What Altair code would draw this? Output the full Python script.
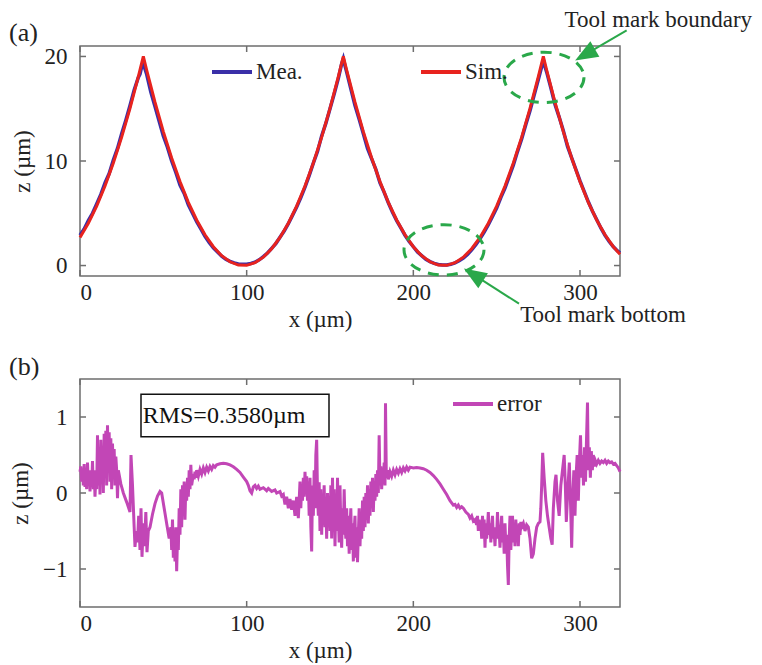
import altair as alt
import pandas as pd

# ---------------- data ----------------
sim_x = [0, 5, 10, 15, 20, 25, 30, 35, 38, 40, 45, 50, 55, 60, 65, 70, 75, 80, 85, 90, 95,
         100, 105, 110, 115, 120, 125, 130, 135, 140, 145, 150, 155, 158, 160, 165, 170, 175,
         180, 185, 190, 195, 200, 205, 210, 215, 220, 225, 230, 235, 240, 245, 250, 255, 260,
         265, 270, 275, 278, 280, 285, 290, 295, 300, 305, 310, 315, 320, 324]
sim_z = [2.69, 4.05, 5.69, 7.61, 9.81, 12.28, 15.03, 18.06, 20.0, 18.70, 15.62, 12.81, 10.28,
         8.03, 6.05, 4.36, 2.94, 1.80, 0.94, 0.36, 0.05, 0.02, 0.27, 0.80, 1.61, 2.69, 4.05,
         5.69, 7.61, 9.81, 12.28, 15.03, 18.06, 20.0, 18.70, 15.62, 12.81, 10.28, 8.03, 6.05,
         4.36, 2.94, 1.80, 0.94, 0.36, 0.05, 0.02, 0.27, 0.80, 1.61, 2.69, 4.05, 5.69, 7.61,
         9.81, 12.28, 15.03, 18.06, 20.0, 18.70, 15.62, 12.81, 10.28, 8.03, 6.05, 4.36, 2.94,
         1.80, 1.09]

mea_x = [0, 2.5, 5, 7.5, 10, 12.5, 15, 17.5, 20, 22.5, 25, 27.5, 30, 32.5, 35, 36, 37, 38, 39,
         40, 42.5, 45, 47.5, 50, 52.5, 55, 57.5, 60, 62.5, 65, 67.5, 70, 72.5, 75, 77.5, 80,
         82.5, 85, 87.5, 90, 92.5, 95, 97.5, 100, 102.5, 105, 107.5, 110, 112.5, 115, 117.5,
         120, 122.5, 125, 127.5, 130, 132.5, 135, 137.5, 140, 142.5, 145, 147.5, 150, 152.5,
         155, 157, 158, 159, 160, 162.5, 165, 167.5, 170, 172.5, 175, 177.5, 180, 182.5, 185,
         187.5, 190, 192.5, 195, 197.5, 200, 202.5, 205, 207.5, 210, 212.5, 215, 217.5, 220,
         222.5, 225, 227.5, 230, 232.5, 235, 237.5, 240, 242.5, 245, 247.5, 250, 252.5, 255,
         257.5, 260, 262.5, 265, 267.5, 270, 272.5, 275, 277, 278, 279, 280, 282.5, 285, 287.5,
         290, 292.5, 295, 297.5, 300, 302.5, 305, 307.5, 310, 312.5, 315, 317.5, 320, 322.5, 324]
mea_z = [2.9, 3.5, 4.3, 5.0, 5.9, 6.8, 7.9, 8.8, 10.1, 11.2, 12.6, 13.9, 15.3, 16.8, 18.0, 18.3,
         19.0, 19.4, 18.8, 18.3, 16.6, 15.2, 13.8, 12.4, 11.3, 10.0, 8.9, 7.7, 6.9, 5.8, 5.0,
         4.2, 3.5, 2.8, 2.2, 1.7, 1.3, 0.9, 0.6, 0.4, 0.25, 0.15, 0.12, 0.12, 0.2, 0.32, 0.55,
         0.85, 1.2, 1.65, 2.1, 2.7, 3.3, 4.0, 4.8, 5.6, 6.5, 7.5, 8.6, 9.8, 10.9, 12.4, 13.6,
         15.0, 16.4, 17.9, 19.3, 19.8, 19.1, 18.5, 16.9, 15.3, 14.0, 12.6, 11.2, 10.2, 9.2, 7.9,
         7.0, 6.0, 5.1, 4.3, 3.6, 2.9, 2.3, 1.8, 1.3, 0.95, 0.6, 0.38, 0.2, 0.1, 0.05, 0.05,
         0.12, 0.25, 0.45, 0.72, 1.05, 1.5, 2.0, 2.55, 3.2, 3.9, 4.7, 5.5, 6.5, 7.4, 8.5, 9.6,
         10.9, 12.1, 13.5, 14.8, 16.3, 17.8, 19.0, 19.7, 19.0, 18.5, 17.0, 15.4, 14.2, 12.9,
         11.4, 10.3, 9.2, 8.1, 7.1, 6.1, 5.2, 4.4, 3.6, 2.9, 2.3, 1.8, 1.4, 1.2]

err_x = [0, 0.5, 1, 1.5, 2, 2.5, 3, 3.5, 4, 4.5, 5, 5.5, 6, 6.5, 7, 7.5, 8, 8.5, 9, 9.5,
         10, 10.5, 11, 11.5, 12, 12.5, 13, 13.5, 14, 14.5, 15, 15.5, 16, 16.5, 17, 17.5, 18,
         18.5, 19, 19.5, 20, 20.5, 21, 21.5, 22, 22.5, 23, 24.5, 26, 28, 30, 30.6, 31.5, 32.5,
         33, 33.8, 34.5, 35.2, 36, 36.6, 37.2, 38, 38.7, 39.5, 40.2, 41, 42, 43.5, 45, 46.5,
         48, 49, 50.5, 52, 53.5, 54.5, 55, 55.5, 56, 56.5, 57, 57.5, 58, 58.5, 59, 59.5, 60,
         60.5, 61, 61.5, 62, 62.5, 63, 63.5, 64, 64.5, 65, 65.5, 66, 66.5, 67, 68, 68.5, 69,
         69.5, 70, 71, 72, 73, 74, 75, 76, 77, 78, 79, 80, 81, 82, 84, 86, 88, 90, 92, 94, 96,
         98, 100, 101, 102, 103, 104, 105, 106, 107, 108, 110, 112, 113, 115, 117, 118, 120,
         121, 122, 123, 124, 125, 126, 127, 128, 129, 130, 131, 131.5, 132, 132.5, 133, 133.5,
         134, 134.5, 135, 135.5, 136, 136.5, 137, 137.5, 138, 138.5, 139, 139.5, 140, 140.5,
         141, 141.5, 142, 142.5, 143, 143.5, 144, 144.5, 145, 145.5, 146, 146.5, 147, 147.5,
         148, 148.5, 149, 149.5, 150, 150.5, 151, 151.5, 152, 152.5, 153, 153.5, 154, 154.5,
         155, 155.5, 156, 156.5, 157, 157.5, 158, 158.5, 159, 159.5, 160, 160.5, 161, 161.5,
         162, 162.5, 163, 163.5, 164, 164.5, 165, 165.5, 166, 166.5, 167, 167.5, 168, 168.5,
         169, 169.5, 170, 170.5, 171, 171.5, 172, 172.5, 173, 173.5, 174, 174.5, 175, 175.5,
         176, 176.5, 177, 177.5, 178, 178.5, 179, 179.5, 180, 180.5, 181, 181.5, 182, 182.5,
         183, 183.3, 183.8, 184.5, 185, 186, 187, 188, 189, 190, 191, 192, 193, 194, 195, 196,
         197, 198, 200, 202, 204, 206, 208, 210, 212, 214, 216, 218, 220, 222, 224, 225, 226,
         227, 228, 229, 230, 231.5, 233, 234, 235, 236, 237, 238, 238.5, 239, 239.5, 240,
         240.5, 241, 241.5, 242, 242.5, 243, 243.5, 244, 244.5, 245, 245.5, 246, 246.5, 247,
         247.5, 248, 248.5, 249, 249.5, 250, 250.5, 251, 251.5, 252, 252.5, 253, 253.5, 254,
         254.5, 255, 255.5, 256, 256.5, 257, 257.5, 258, 258.5, 259, 259.5, 260, 260.5, 261,
         261.5, 262, 262.5, 263, 263.5, 264, 264.5, 265, 266, 267, 268, 269, 270, 271, 272,
         273, 274, 275, 276, 276.5, 277, 277.6, 278.5, 279.5, 280.5, 281.5, 282.5, 283.3, 284,
         285, 285.6, 286.5, 287.5, 288.5, 289.5, 290.5, 291.2, 291.8, 292.6, 293.6, 294.4, 295,
         295.6, 296.3, 297, 297.6, 298.3, 299, 299.6, 300.3, 300.9, 301.5, 302.1, 302.7, 303.3,
         303.9, 304.5, 305, 305.6, 306.2, 306.8, 307.4, 308, 308.6, 309.3, 310, 311, 312, 313,
         314, 315, 316, 317, 318, 319, 320, 321, 322, 323, 324]
err_z = [0.28, 0.35, 0.15, 0.32, 0.1, 0.38, 0.08, 0.25, 0.05, 0.4, 0.12, 0.3, 0.02, 0.22, 0.1,
         0.42, 0.05, 0.3, -0.05, 0.2,
         0.05, 0.76, 0.1, 0.55, -0.02, 0.7, 0.2, 0.6, 0.0, 0.78, 0.25, 0.82, 0.1, 0.89, 0.3,
         0.8, 0.15, 0.72, 0.05, 0.65, 0.2, 0.58, 0.1, 0.48, 0.3, -0.07, 0.3, 0.12, 0.0, -0.12,
         -0.25, 0.5, 0.1, -0.45, -0.71, -0.5, -0.65, -0.3, -0.75, -0.2, -0.84, -0.4, -0.7,
         -0.25, -0.78, -0.5, -0.45, -0.28, -0.14, -0.04, 0.02, 0.0, -0.2, -0.4, -0.6, -0.45,
         -0.75, -0.35, -0.85, -0.5, -0.9, -0.45, -1.03, -0.6, -0.75, -0.2, -0.55, 0.05, -0.45,
         0.1, -0.3, 0.15, -0.35, 0.12, -0.1, 0.2, -0.05, 0.3, 0.05, 0.37, 0.1, 0.25, 0.18,
         0.28, 0.2, 0.3, 0.22, 0.31, 0.25, 0.33, 0.27, 0.34, 0.29, 0.35, 0.31, 0.36, 0.34,
         0.37, 0.385, 0.39, 0.385, 0.37, 0.345, 0.31, 0.27, 0.21, 0.15, 0.1, 0.03, 0.0, 0.08,
         0.1, 0.06, 0.09, 0.05, 0.07, 0.03, 0.06, 0.02, 0.04, 0.0, 0.02, -0.04, -0.02, -0.15,
         -0.05, -0.2, -0.08, -0.22, -0.1, -0.3, -0.05, -0.33, -0.1, 0.15, -0.2, 0.1, -0.1, 0.2,
         -0.05, 0.28, 0.0, 0.22, -0.1, 0.15, -0.3, 0.2, -0.45, -0.77, 0.1, -0.3, 0.3, -0.2,
         0.5, 0.7, 0.0, -0.3, 0.14, -0.5, 0.05, -0.55, -0.1, -0.3, 0.1, -0.45, -0.15, -0.6,
         0.0, -0.35, -0.1, -0.5, 0.1, -0.6, 0.2, -0.4, 0.05, -0.7, -0.1, -0.5, 0.2, -0.3,
         -0.65, 0.1, -0.45, -0.72, -0.2, -0.55, 0.05, -0.4, -0.6, -0.2, -0.7, -0.3, -0.8,
         -0.45, -0.2, -0.75, -0.4, -0.9, -0.5, -0.3, -0.85, -0.45, -0.91, -0.55, -0.2, -0.7,
         -0.35, -0.6, -0.1, -0.5, -0.05, -0.45, 0.0, -0.35, 0.1, -0.4, 0.05, -0.3, 0.15, -0.2,
         0.2, -0.25, 0.1, -0.1, 0.25, -0.05, 0.3, 0.0, 0.76, 0.1, 0.35, 0.05, 0.3, 0.15, 0.4,
         0.1, 1.18, 0.2, 0.3, 0.18, 0.28, 0.22, 0.3, 0.24, 0.31, 0.26, 0.32, 0.27, 0.33, 0.29,
         0.34, 0.3, 0.34, 0.33, 0.335, 0.33, 0.32, 0.3, 0.27, 0.23, 0.18, 0.12, 0.05, -0.02,
         -0.1, -0.16, -0.15, -0.19, -0.16, -0.2, -0.18, -0.2, -0.25, -0.28, -0.33, -0.3, -0.37,
         -0.35, -0.42, -0.3, -0.5, -0.35, -0.45, -0.38, -0.6, -0.3, -0.55, -0.35, -0.72, -0.4,
         -0.6, -0.45, -0.25, -0.55, -0.4, -0.65, -0.45, -0.3, -0.6, -0.5, -0.7, -0.45, -0.55,
         -0.25, -0.6, -0.5, -0.72, -0.45, -0.3, -0.65, -0.5, -0.8, -0.4, -0.7, -0.55, -0.95,
         -1.21, -0.6, -0.3, -0.75, -0.5, -0.3, -0.65, -0.4, -0.7, -0.35, -0.6, -0.45, -0.7,
         -0.4, -0.55, -0.38, -0.45, -0.4, -0.5, -0.42, -0.45, -0.6, -0.86, -0.8, -0.6, -0.45,
         -0.4, -0.38, -0.2, 0.1, 0.53, 0.2, -0.1, -0.3, -0.45, -0.6, -0.68, -0.2, 0.15, 0.24,
         -0.1, -0.3, 0.1, 0.3, 0.5, 0.1, -0.38, 0.0, 0.4, -0.2, -0.72, -0.1, 0.3, -0.3, 0.2,
         0.5, -0.1, 0.4, 0.76, 0.2, 0.5, 0.1, 0.6, 0.15, 0.7, 1.19, 0.3, 0.6, 0.2, 0.55, 0.3,
         0.5, 0.35, 0.42, 0.38, 0.43, 0.39, 0.42, 0.4, 0.43, 0.39, 0.42, 0.4, 0.41, 0.38, 0.39,
         0.36, 0.33, 0.28]

x_ticks = [0, 100, 200, 300]
z_ticks_a = [0, 10, 20]
z_ticks_b = [-1, 0, 1]

series_names = ["Mea.", "Sim."]
series_colors = ["#3a2fa8", "#e8231e"]
err_color = "#c246b6"
green = "#2aa84a"
frame = "#6e6e6e"

# annotations (data coordinates of the top panel)
ellipse_x = [278.4, 218.4]
ellipse_z = [18.0, 1.5]
arrow_x = [328.0, 263.4]
arrow_z = [22.5, -3.65]
head_x = [303.3, 236.4]
head_z = [20.19, -0.9]
head_angle = [240, 302.5]
note_text = ["Tool mark boundary", "Tool mark bottom"]
note_x = [347.0, 313.8]
note_z = [23.49, -4.75]

rms_text = "RMS=0.3580\u00b5m"
rms_box = [36.6, 149.4, 0.74, 1.30]   # x0, x1, z0, z1
rms_pos = [37.6, 1.01]

FONT = "Liberation Serif"
FS = 23
W, HA, HB = 540, 230, 228

xs = alt.Scale(domain=[0, 324], nice=False, zero=False)
ysa = alt.Scale(domain=[-1, 21], nice=False, zero=False)
ysb = alt.Scale(domain=[-1.5, 1.5], nice=False, zero=False)

x_axis = alt.Axis(values=x_ticks, title="x (\u00b5m)", labelPadding=5, titlePadding=4, titleX=240)
y_axis_a = alt.Axis(values=z_ticks_a, title="z (\u00b5m)", labelPadding=13, titlePadding=10)
y_axis_b = alt.Axis(values=z_ticks_b, title="z (\u00b5m)", labelPadding=13, titlePadding=10)


def X():
    return alt.X("x:Q", scale=xs, axis=x_axis)


def Ya():
    return alt.Y("z:Q", scale=ysa, axis=y_axis_a)


def Yb():
    return alt.Y("z:Q", scale=ysb, axis=y_axis_b)


def ticks(Yf, zt, h):
    xt = pd.DataFrame({"x": x_ticks})
    yt = pd.DataFrame({"z": zt})
    base_x = alt.Chart(xt).mark_rule(color=frame, strokeWidth=1.5)
    base_y = alt.Chart(yt).mark_rule(color=frame, strokeWidth=1.5)
    return [
        base_x.encode(x=X(), y=alt.value(0), y2=alt.value(6)),
        base_x.encode(x=X(), y=alt.value(h), y2=alt.value(h - 6)),
        base_y.encode(y=Yf(), x=alt.value(0), x2=alt.value(6)),
        base_y.encode(y=Yf(), x=alt.value(W), x2=alt.value(W - 6)),
    ]


# ---------------- panel (a) ----------------
mea_df = pd.DataFrame({"x": mea_x, "z": mea_z, "series": "Mea."})
sim_df = pd.DataFrame({"x": sim_x, "z": sim_z, "series": "Sim."})

color_a = alt.Color(
    "series:N",
    scale=alt.Scale(domain=series_names, range=series_colors),
    legend=alt.Legend(
        title=None, orient="none", direction="horizontal", legendX=130, legendY=4,
        symbolType="stroke", symbolSize=1600, symbolStrokeWidth=4, labelFont=FONT,
        labelFontSize=FS, labelColor="#222", labelOffset=2, columnPadding=110, padding=0,
    ),
)

mea_line = alt.Chart(mea_df).mark_line(strokeWidth=3.5).encode(x=X(), y=Ya(), color=color_a)
sim_line = alt.Chart(sim_df).mark_line(strokeWidth=3).encode(x=X(), y=Ya(), color=color_a)

ell_df = pd.DataFrame({"x": ellipse_x, "z": ellipse_z})
ellipse_path = ("M 1 0 C 1 0.348 0.552 0.63 0 0.63 C -0.552 0.63 -1 0.348 -1 0 "
                "C -1 -0.348 -0.552 -0.63 0 -0.63 C 0.552 -0.63 1 -0.348 1 0 Z")
ellipses = alt.Chart(ell_df).mark_point(
    shape=ellipse_path, size=6400, filled=False, color=green, strokeWidth=3,
    strokeDash=[11, 8], opacity=1,
).encode(x=X(), y=Ya())

arr_df = pd.DataFrame({"x": arrow_x, "z": arrow_z, "x2": head_x, "z2": head_z})
shafts = alt.Chart(arr_df).mark_rule(color=green, strokeWidth=2).encode(
    x=X(), y=Ya(), x2="x2:Q", y2="z2:Q",
)
head_df = pd.DataFrame({"x": head_x, "z": head_z, "a": head_angle})
heads = alt.Chart(head_df).mark_point(
    shape="M 0 -1 L 0.75 0.9 L -0.75 0.9 Z", size=576, filled=True, color=green, opacity=1,
).encode(x=X(), y=Ya(), angle=alt.Angle("a:Q", scale=None))
note_df = pd.DataFrame({"x": note_x, "z": note_z, "t": note_text})
notes = alt.Chart(note_df).mark_text(font=FONT, fontSize=FS, color="#222", align="center",
                                     baseline="middle").encode(x=X(), y=Ya(), text="t:N")
label_a = alt.Chart(pd.DataFrame({"t": ["(a)"]})).mark_text(
    font=FONT, fontSize=26, color="#222", align="left", baseline="middle"
).encode(x=alt.value(-71), y=alt.value(-13), text="t:N")

panel_a = alt.layer(
    mea_line, sim_line, ellipses, shafts, heads, notes, label_a, *ticks(Ya, z_ticks_a, HA)
).properties(width=W, height=HA)

# ---------------- panel (b) ----------------
err_df = pd.DataFrame({"x": err_x, "z": err_z, "series": "error"})
err_line = alt.Chart(err_df).mark_line(strokeWidth=3).encode(
    x=X(), y=Yb(),
    color=alt.Color(
        "series:N", scale=alt.Scale(domain=["error"], range=[err_color]),
        legend=alt.Legend(
            title=None, orient="none", legendX=371, legendY=3, symbolType="stroke",
            symbolSize=1600, symbolStrokeWidth=4, labelFont=FONT, labelFontSize=FS,
            labelColor="#222", labelOffset=2, padding=0,
        ),
    ),
)
box_df = pd.DataFrame({"x": [rms_box[0]], "x2": [rms_box[1]], "z": [rms_box[2]], "z2": [rms_box[3]]})
box = alt.Chart(box_df).mark_rect(fill="white", stroke="#111", strokeWidth=1.5).encode(
    x=X(), x2="x2:Q", y=Yb(), y2="z2:Q",
)
rms = alt.Chart(pd.DataFrame({"x": [rms_pos[0]], "z": [rms_pos[1]], "t": [rms_text]})).mark_text(
    font=FONT, fontSize=24, color="#111", align="left", baseline="middle"
).encode(x=X(), y=Yb(), text="t:N")
label_b = alt.Chart(pd.DataFrame({"t": ["(b)"]})).mark_text(
    font=FONT, fontSize=26, color="#222", align="left", baseline="middle"
).encode(x=alt.value(-71), y=alt.value(-12), text="t:N")

panel_b = alt.layer(err_line, box, rms, label_b, *ticks(Yb, z_ticks_b, HB)).properties(
    width=W, height=HB
)

chart = (
    alt.vconcat(panel_a, panel_b, spacing=21)
    .resolve_scale(color="independent", y="independent")
    .resolve_legend(color="independent")
    .configure(padding=0)
    .configure_view(stroke=frame, strokeWidth=1.5)
    .configure_axis(
        domain=False, ticks=False, grid=False, labelFont=FONT, labelFontSize=FS,
        labelColor="#222", titleFont=FONT, titleFontSize=FS, titleColor="#222",
        titleFontWeight="normal",
    )
)

chart.save("out.html", embed_options={"renderer": "svg", "actions": False})
